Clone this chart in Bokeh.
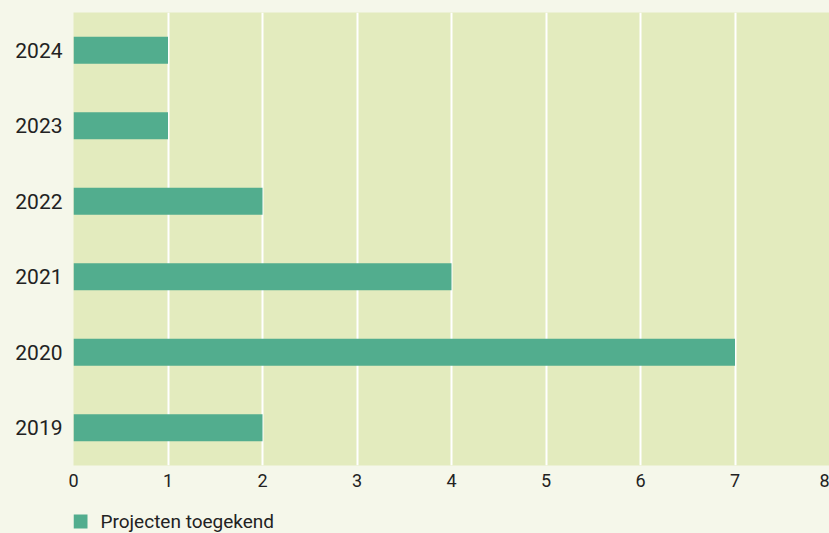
from bokeh.plotting import figure
from bokeh.layouts import column
from bokeh.models import Range1d, FactorRange, ColumnDataSource, FixedTicker
from bokeh.core.properties import value
from bokeh.embed import file_html
from bokeh.resources import INLINE

years = ["2019", "2020", "2021", "2022", "2023", "2024"]
values = [2, 7, 4, 2, 1, 1]
x_ticks = [0, 1, 2, 3, 4, 5, 6, 7, 8]
series_name = "Projecten toegekend"

FONT = "Roboto"
BG = "#f5f7ea"
PLOT_BG = "#e3ebbe"
BAR = "#52ad8e"
TEXT = "#222222"

src = ColumnDataSource(dict(year=years, value=values))

p = figure(width=829, height=500, output_backend="svg", toolbar_location=None,
           y_range=FactorRange(factors=years, range_padding=0),
           x_range=Range1d(0, 8),
           min_border_left=73, min_border_top=12, min_border_right=0, min_border_bottom=35)
p.background_fill_color = PLOT_BG
p.border_fill_color = BG
p.outline_line_color = None

r = p.hbar(y="year", right="value", left=0, height=0.36, source=src,
           fill_color=BAR, line_color=None)

p.xgrid.grid_line_color = "white"
p.xgrid.grid_line_width = 2
p.ygrid.grid_line_color = None
p.xaxis.ticker = FixedTicker(ticks=x_ticks)

for ax in (p.xaxis[0], p.yaxis[0]):
    ax.axis_line_color = None
    ax.major_tick_line_color = None
    ax.minor_tick_line_color = None
    ax.major_label_text_font = FONT
    ax.major_label_text_color = TEXT
p.yaxis.major_label_text_font_size = "21px"
p.yaxis.major_label_standoff = 5
p.xaxis.major_label_text_font_size = "18px"
p.xaxis.major_label_standoff = 2

# legend strip below the chart (its frame is aligned with the chart frame)
leg = figure(width=829, height=33, output_backend="svg", toolbar_location=None,
             x_range=Range1d(0, 756), y_range=Range1d(0, 33),
             min_border=0, min_border_left=0, min_border_right=0,
             min_border_top=0, min_border_bottom=0)
leg.axis.visible = False
leg.grid.visible = False
leg.outline_line_color = None
leg.background_fill_color = BG
leg.border_fill_color = BG
leg_src = ColumnDataSource(dict(x=[7], y=[12], label=[series_name]))
leg.rect(x="x", y="y", width=14, height=14, width_units="screen", height_units="screen",
         source=leg_src, fill_color=BAR, line_color=None)
leg.text(x="x", y="y", text="label", source=leg_src, x_offset=20,
         text_font=value(FONT), text_font_size="19px", text_color=TEXT,
         text_baseline="middle", text_align="left")

layout = column(p, leg, spacing=0)
layout.background = BG

open("out.html", "w").write(file_html(layout, INLINE))
